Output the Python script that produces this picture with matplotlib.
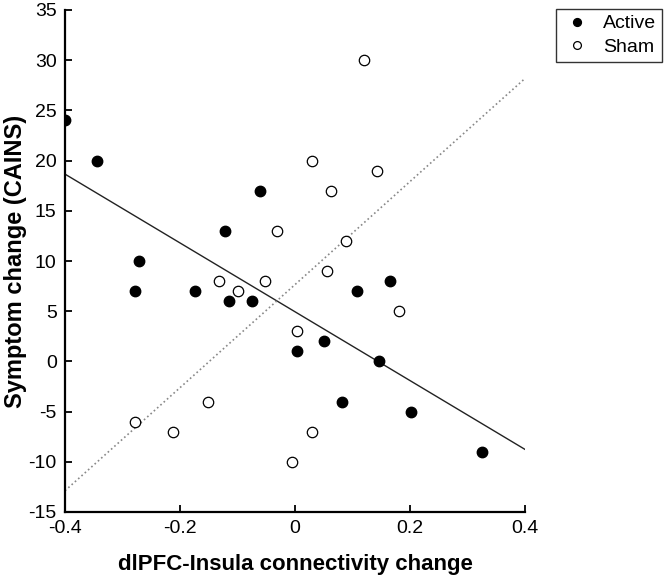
import numpy as np
import matplotlib
matplotlib.use('Agg')
from matplotlib import pyplot as plt

plt.rcParams['font.family'] = ['Liberation Sans', 'DejaVu Sans']
plt.rcParams['axes.unicode_minus'] = False

# active group
active_x = [-0.400, -0.344, -0.271, -0.278, -0.174, -0.122, -0.115, -0.061, -0.074,
            0.003, 0.050, 0.108, 0.166, 0.146, 0.081, 0.202, 0.326]
active_y = [24, 20, 10, 7, 7, 13, 6, 17, 6, 1, 2, 7, 8, 0, -4, -5, -9]

# sham group
sham_x = [-0.278, -0.212, -0.152, -0.132, -0.100, -0.053, -0.032, 0.029, 0.062,
          0.055, 0.003, -0.005, 0.030, 0.120, 0.142, 0.089, 0.180]
sham_y = [-6, -7, -4, 8, 7, 8, 13, 20, 17, 9, 3, -10, -7, 30, 19, 12, 5]

x_ticks = [-0.4, -0.2, 0, 0.2, 0.4]
x_labels = ['-0.4', '-0.2', '0', '0.2', '0.4']
y_ticks = list(range(-15, 40, 5))

fig = plt.figure(figsize=(6.69, 5.78), dpi=100)
ax = fig.add_axes([65/669, 1-512/578, 460/669, 502/578])

ax.plot(active_x, active_y, 'o', color='black', markersize=7.5, label='Active', zorder=3)
ax.plot(sham_x, sham_y, 'o', markerfacecolor='white', markeredgecolor='black',
        markeredgewidth=0.9, markersize=7.5, label='Sham', zorder=3)

# regression lines
xx = np.array([-0.4, 0.4])
a = np.polyfit(active_x, active_y, 1)
s = np.polyfit(sham_x, sham_y, 1)
ax.plot(xx, np.polyval(a, xx), '-', color='#222222', lw=1.0)
ax.plot(xx, np.polyval(s, xx), ':', color='#888888', lw=1.2)

ax.set_xlim(-0.4, 0.4)
ax.set_ylim(-15, 35)
ax.set_xticks(x_ticks)
ax.set_xticklabels(x_labels)
ax.set_yticks(y_ticks)
for sp in ['top', 'right']:
    ax.spines[sp].set_visible(False)
for sp in ['left', 'bottom']:
    ax.spines[sp].set_linewidth(1.6)
ax.tick_params(direction='in', length=5, width=1.3, labelsize=14, colors='black', pad=6)

ax.set_xlabel('dlPFC-Insula connectivity change', fontsize=16, fontweight='bold')
ax.set_ylabel('Symptom change (CAINS)', fontsize=17, fontweight='bold')
ax.xaxis.set_label_coords(0.5, -0.083)
ax.yaxis.set_label_coords(-0.083, 0.5)

leg = fig.legend(loc='upper right', bbox_to_anchor=(662/669, 1-9/578), fontsize=14,
                 fancybox=False, edgecolor='#333333', framealpha=1, borderaxespad=0,
                 handletextpad=0.6, handlelength=1.5, borderpad=0.3, labelspacing=0.3,
                 markerscale=0.75)
leg.get_frame().set_linewidth(1.0)

fig.savefig('out.png', dpi=100)
